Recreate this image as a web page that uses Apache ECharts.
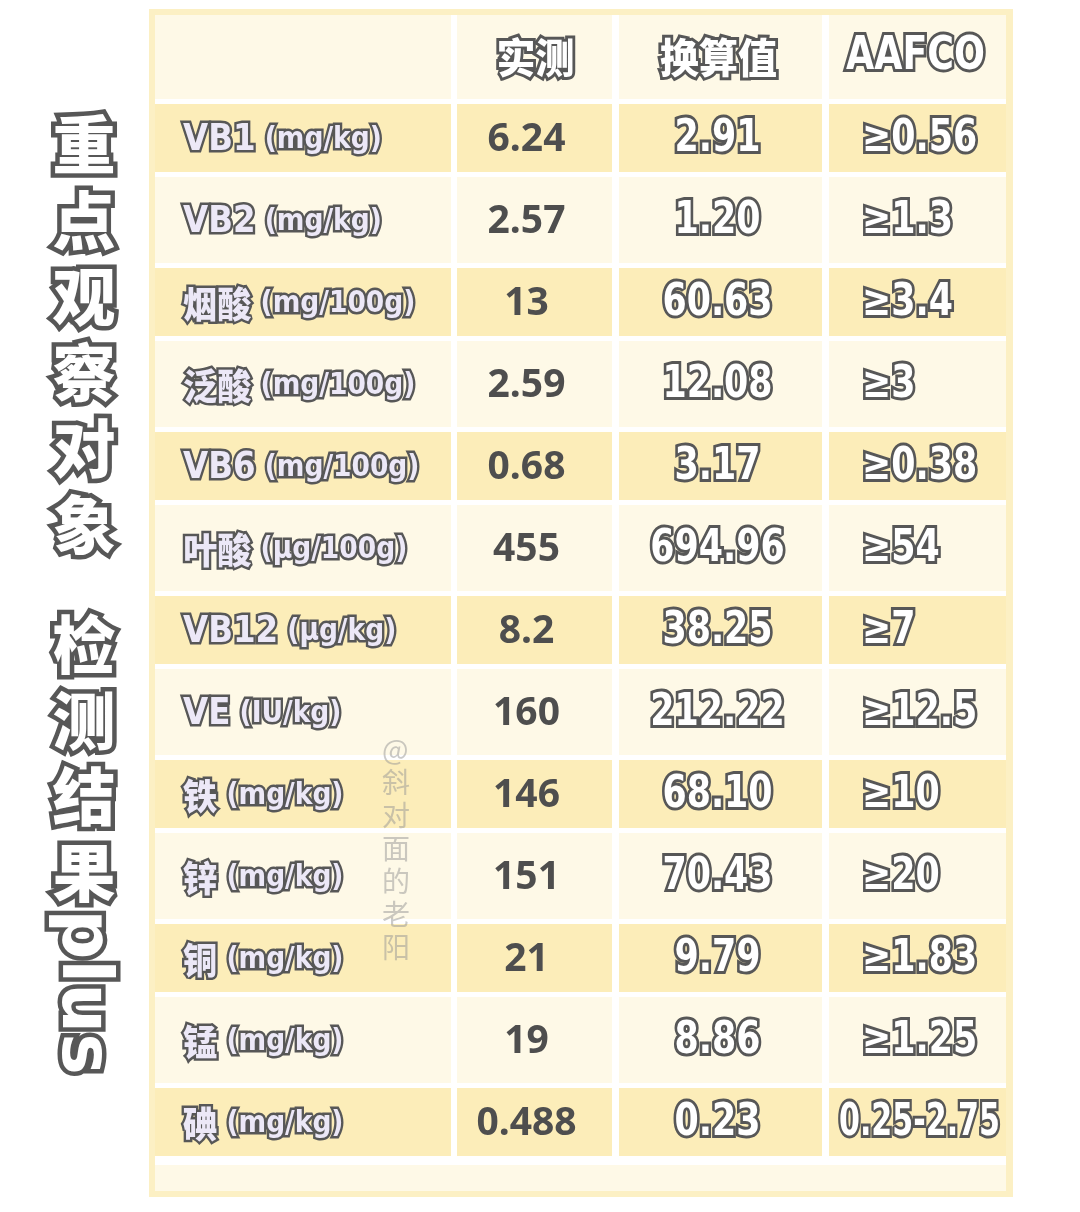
<!DOCTYPE html>
<html>
<head>
<meta charset="utf-8">
<script src="https://cdn.jsdelivr.net/npm/echarts@6/dist/echarts.min.js"></script>
<style>
html,body{margin:0;padding:0;background:#ffffff;}
#main{width:1080px;height:1212px;}
</style>
</head>
<body>
<div id="main"></div>
<script>
// ---- data ----
var headers = ['', '实测', '换算值', 'AAFCO'];
var names = ['VB1', 'VB2', '烟酸', '泛酸', 'VB6', '叶酸', 'VB12', 'VE', '铁', '锌', '铜', '锰', '碘'];
var units = ['mg/kg', 'mg/kg', 'mg/100g', 'mg/100g', 'mg/100g', 'μg/100g', 'μg/kg', 'IU/kg', 'mg/kg', 'mg/kg', 'mg/kg', 'mg/kg', 'mg/kg'];
var measured = ['6.24', '2.57', '13', '2.59', '0.68', '455', '8.2', '160', '146', '151', '21', '19', '0.488'];
var converted = ['2.91', '1.20', '60.63', '12.08', '3.17', '694.96', '38.25', '212.22', '68.10', '70.43', '9.79', '8.86', '0.23'];
var aafco = ['≥0.56', '≥1.3', '≥3.4', '≥3', '≥0.38', '≥54', '≥7', '≥12.5', '≥10', '≥20', '≥1.83', '≥1.25', '0.25-2.75'];
var titleA = ['重', '点', '观', '察', '对', '象'];
var titleB = ['检', '测', '结', '果'];
var titleTail = 'plus';
var watermark = ['@', '斜', '对', '面', '的', '老', '阳'];

// ---- layout / style ----
var DARK = '#fcedb9', LIGHT = '#fef9e7', BORDER = '#fcf0c4';
var OUT = '#575757';
var DH = 68, GAP = 5;
var GTOP = 15, GH = 1148;
var cols = [
  {left: 155, width: 296},
  {left: 457, width: 155},
  {left: 619, width: 203},
  {left: 829, width: 177}
];
var rows = ['header'].concat(names);
var colTexts = [null, measured, converted, aafco];

var LAT = '"DejaVu Sans Condensed","Noto Sans CJK SC",sans-serif';
var CJK = '"Noto Sans CJK SC",sans-serif';

var mctx = document.createElement('canvas').getContext('2d');
function textW(text, font) { mctx.font = font; return mctx.measureText(text).width; }

function cellRect(api, r) {
  var c = api.coord([0, r]);
  var s = api.size([1, 1]);
  var band = s[1], w = s[0];
  var x0 = c[0] - w / 2;
  var top, bot;
  if (r % 2 === 1) { top = c[1] - DH / 2; bot = c[1] + DH / 2; }
  else if (r === 0) { top = c[1] - band / 2; bot = c[1] + band - DH / 2 - GAP; }
  else { top = c[1] - band + DH / 2 + GAP; bot = c[1] + band - DH / 2 - GAP; }
  return {x: x0, y: top, w: w, h: bot - top, cx: c[0], cy: c[1], dark: r % 2 === 1};
}

// outlined white number/word, horizontally condensed to fit the cell
function outlinedText(text, x, y, font, align, fill, sx, maxW) {
  var w = textW(text, font) * sx;
  if (maxW && w > maxW) sx = sx * maxW / w;
  return {
    type: 'text', x: x, y: y, scaleX: sx, scaleY: 1,
    style: {
      text: text, x: 0, y: 0, align: align, verticalAlign: 'middle',
      font: font, fill: fill, stroke: OUT, lineWidth: 6, strokeFirst: true
    },
    z2: 10
  };
}

function makeRender(ci) {
  return function (params, api) {
    var r = api.value(1);
    var R = cellRect(api, r);
    var children = [{
      type: 'rect',
      shape: {x: R.x, y: R.y, width: R.w, height: R.h},
      style: {fill: R.dark ? DARK : LIGHT}
    }];
    if (r === 0) {
      if (headers[ci]) {
        var isCJK = /[\u4e00-\u9fff]/.test(headers[ci]);
        var hf = isCJK ? '900 41px ' + CJK : 'bold 46px ' + LAT;
        children.push(outlinedText(headers[ci], R.cx + (ci === 1 ? 1 : -2), R.cy + 1, hf, 'center', '#ffffff',
          isCJK ? 0.95 : 0.88, R.w - 16));
      }
    } else {
      var i = r - 1;
      if (ci === 0) {
        var nm = names[i];
        var cjk = /[\u4e00-\u9fff]/.test(nm);
        children.push({
          type: 'text', x: R.x + 28, y: R.cy + 2, scaleX: 0.95,
          style: {
            text: '{n|' + nm + '}{u| (' + units[i] + ')}',
            x: 0, y: 0, align: 'left', verticalAlign: 'middle',
            rich: {
              n: {font: (cjk ? '900 36px ' + CJK : 'bold 38px ' + LAT), fill: '#ece8f7', stroke: OUT, lineWidth: 5, strokeFirst: true},
              u: {font: 'bold 31px ' + LAT, fill: '#ece8f7', stroke: OUT, lineWidth: 5, strokeFirst: true}
            }
          },
          z2: 10
        });
      } else if (ci === 1) {
        children.push({
          type: 'text',
          style: {
            text: colTexts[ci][i], x: R.cx - 8, y: R.cy + 2, align: 'center', verticalAlign: 'middle',
            font: 'bold 39px "Noto Sans",sans-serif', fill: '#4e4e4e'
          },
          z2: 10
        });
      } else {
        var t = colTexts[ci][i];
        var f = 'bold 44px ' + LAT;
        if (ci === 3 && t.charAt(0) === '≥') {
          children.push(outlinedText(t, R.x + 33, R.cy + 2, f, 'left', '#ffffff', 0.88, R.w - 40));
        } else {
          children.push(outlinedText(t, R.cx - (ci === 2 ? 3 : -2), R.cy + 2, f, 'center', '#ffffff', 0.88, R.w - 16));
        }
      }
    }
    return {type: 'group', children: children};
  };
}

var grids = [], xAxes = [], yAxes = [], series = [];
cols.forEach(function (c, ci) {
  grids.push({left: c.left, width: c.width, top: GTOP, height: GH, containLabel: false});
  xAxes.push({type: 'category', gridIndex: ci, data: [headers[ci] || 'item'], show: false});
  yAxes.push({type: 'category', gridIndex: ci, data: rows, inverse: true, show: false});
  var data = rows.map(function (r, ri) { return [0, ri]; });
  series.push({
    type: 'custom', xAxisIndex: ci, yAxisIndex: ci,
    renderItem: makeRender(ci), data: data, silent: true, animation: false, z: 2
  });
});

var graphics = [
  {type: 'rect', shape: {x: 149, y: 9, width: 864, height: 1188}, style: {fill: BORDER}, z: -10},
  {type: 'rect', shape: {x: 155, y: 15, width: 851, height: 1176}, style: {fill: '#ffffff'}, z: -9},
  {type: 'rect', shape: {x: 155, y: 1165, width: 851, height: 26}, style: {fill: LIGHT}, z: -8},
  {
    type: 'text', left: 48, top: 106, z: 20,
    style: {
      text: titleA.join('\n'), lineHeight: 76, align: 'center',
      font: '900 63px ' + CJK, fill: '#ffffff', stroke: OUT, lineWidth: 9, strokeFirst: true
    }
  },
  {
    type: 'text', left: 48, top: 606, z: 20,
    style: {
      text: titleB.join('\n'), lineHeight: 76, align: 'center',
      font: '900 63px ' + CJK, fill: '#ffffff', stroke: OUT, lineWidth: 9, strokeFirst: true
    }
  },
  {
    type: 'text', x: 81, y: 992, rotation: -Math.PI / 2, z: 20,
    style: {
      text: titleTail, x: 0, y: 0, align: 'center', verticalAlign: 'middle',
      font: 'bold 70px "DejaVu Sans",sans-serif', fill: '#ffffff', stroke: OUT, lineWidth: 9, strokeFirst: true
    }
  },
  {
    type: 'text', left: 382, top: 733, z: 30,
    style: {
      text: watermark.join('\n'), lineHeight: 33, align: 'center',
      font: '28px ' + CJK, fill: 'rgba(150,150,150,0.5)'
    }
  }
];

var chart = echarts.init(document.getElementById('main'), null, {renderer: 'canvas'});
chart.setOption({
  backgroundColor: '#ffffff',
  animation: false,
  grid: grids,
  xAxis: xAxes,
  yAxis: yAxes,
  series: series,
  graphic: {elements: graphics}
});
</script>
</body>
</html>
